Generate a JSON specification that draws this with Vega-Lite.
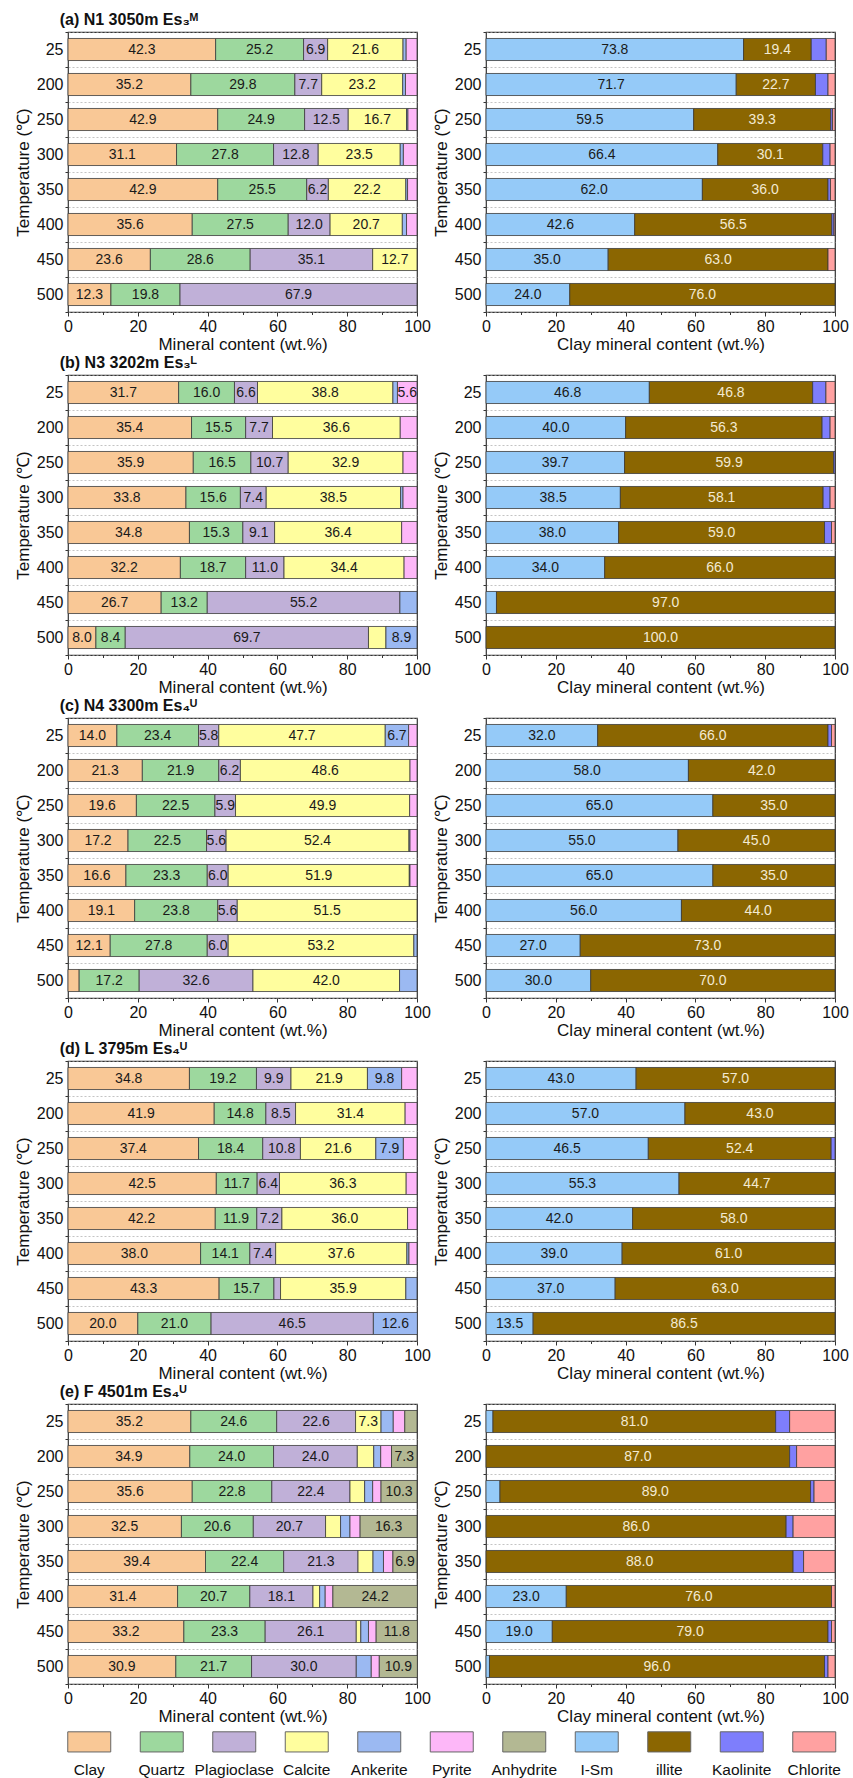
{
  "$schema": "https://vega.github.io/schema/vega-lite/v6.json",
  "padding": {"left": 13, "top": 12, "right": 2, "bottom": 2},
  "background": "white",
  "config": {
    "font": "Liberation Sans",
    "view": {"stroke": "#333", "strokeWidth": 1.2},
    "axis": {"labelFont": "Liberation Sans", "labelFontSize": 16, "labelColor": "#111", "titleFont": "Liberation Sans", "titleFontSize": 17, "titleFontWeight": "normal", "titleColor": "#111", "tickColor": "#333", "domainColor": "#333"},
    "axisX": {"values": [0, 10, 20, 30, 40, 50, 60, 70, 80, 90, 100], "labelExpr": "datum.value % 20 == 0 ? datum.label : ''", "tickSize": {"condition": {"test": "datum.value % 20 == 0", "value": 4}, "value": 2.5}, "labelFlush": false, "grid": false, "labelPadding": 2, "titlePadding": 2.5, "domain": false},
    "axisY": {"tickBand": "extent", "grid": true, "gridDash": [2, 2], "gridColor": "#aaa", "gridWidth": 0.7, "tickSize": 3, "labelPadding": 2, "titlePadding": 4, "domain": false},
    "title": {"font": "Liberation Sans", "fontSize": 16, "fontWeight": "bold", "color": "#111", "anchor": "start", "dx": 46, "offset": -5},
    "text": {"font": "Liberation Sans"}
  },
  "datasets": {
    "aL": [
      {"T": 25, "Clay": 42.3, "Quartz": 25.2, "Plagioclase": 6.9, "Calcite": 21.6, "Ankerite": 0.9, "Pyrite": 3.1},
      {"T": 200, "Clay": 35.2, "Quartz": 29.8, "Plagioclase": 7.7, "Calcite": 23.2, "Ankerite": 0.8, "Pyrite": 3.3},
      {"T": 250, "Clay": 42.9, "Quartz": 24.9, "Plagioclase": 12.5, "Calcite": 16.7, "Ankerite": 0.4, "Pyrite": 2.6},
      {"T": 300, "Clay": 31.1, "Quartz": 27.8, "Plagioclase": 12.8, "Calcite": 23.5, "Ankerite": 0.9, "Pyrite": 3.9},
      {"T": 350, "Clay": 42.9, "Quartz": 25.5, "Plagioclase": 6.2, "Calcite": 22.2, "Ankerite": 0.5, "Pyrite": 2.7},
      {"T": 400, "Clay": 35.6, "Quartz": 27.5, "Plagioclase": 12.0, "Calcite": 20.7, "Ankerite": 1.2, "Pyrite": 3.0},
      {"T": 450, "Clay": 23.6, "Quartz": 28.6, "Plagioclase": 35.1, "Calcite": 12.7},
      {"T": 500, "Clay": 12.3, "Quartz": 19.8, "Plagioclase": 67.9}
    ],
    "aR": [
      {"T": 25, "I-Sm": 73.8, "illite": 19.4, "Kaolinite": 4.3, "Chlorite": 2.5},
      {"T": 200, "I-Sm": 71.7, "illite": 22.7, "Kaolinite": 3.6, "Chlorite": 2.0},
      {"T": 250, "I-Sm": 59.5, "illite": 39.3, "Kaolinite": 0.5, "Chlorite": 0.7},
      {"T": 300, "I-Sm": 66.4, "illite": 30.1, "Kaolinite": 2.1, "Chlorite": 1.4},
      {"T": 350, "I-Sm": 62.0, "illite": 36.0, "Kaolinite": 0.7, "Chlorite": 1.3},
      {"T": 400, "I-Sm": 42.6, "illite": 56.5, "Kaolinite": 0.6, "Chlorite": 0.3},
      {"T": 450, "I-Sm": 35.0, "illite": 63.0, "Chlorite": 2.0},
      {"T": 500, "I-Sm": 24.0, "illite": 76.0}
    ],
    "bL": [
      {"T": 25, "Clay": 31.7, "Quartz": 16.0, "Plagioclase": 6.6, "Calcite": 38.8, "Ankerite": 1.3, "Pyrite": 5.6},
      {"T": 200, "Clay": 35.4, "Quartz": 15.5, "Plagioclase": 7.7, "Calcite": 36.6, "Pyrite": 4.8},
      {"T": 250, "Clay": 35.9, "Quartz": 16.5, "Plagioclase": 10.7, "Calcite": 32.9, "Pyrite": 4.0},
      {"T": 300, "Clay": 33.8, "Quartz": 15.6, "Plagioclase": 7.4, "Calcite": 38.5, "Ankerite": 0.7, "Pyrite": 4.0},
      {"T": 350, "Clay": 34.8, "Quartz": 15.3, "Plagioclase": 9.1, "Calcite": 36.4, "Pyrite": 4.4},
      {"T": 400, "Clay": 32.2, "Quartz": 18.7, "Plagioclase": 11.0, "Calcite": 34.4, "Pyrite": 3.7},
      {"T": 450, "Clay": 26.7, "Quartz": 13.2, "Plagioclase": 55.2, "Ankerite": 4.9},
      {"T": 500, "Clay": 8.0, "Quartz": 8.4, "Plagioclase": 69.7, "Calcite": 5.0, "Ankerite": 8.9}
    ],
    "bR": [
      {"T": 25, "I-Sm": 46.8, "illite": 46.8, "Kaolinite": 3.8, "Chlorite": 2.6},
      {"T": 200, "I-Sm": 40.0, "illite": 56.3, "Kaolinite": 2.3, "Chlorite": 1.4},
      {"T": 250, "I-Sm": 39.7, "illite": 59.9, "Kaolinite": 0.4},
      {"T": 300, "I-Sm": 38.5, "illite": 58.1, "Kaolinite": 2.0, "Chlorite": 1.4},
      {"T": 350, "I-Sm": 38.0, "illite": 59.0, "Kaolinite": 2.0, "Chlorite": 1.0},
      {"T": 400, "I-Sm": 34.0, "illite": 66.0},
      {"T": 450, "I-Sm": 3.0, "illite": 97.0},
      {"T": 500, "illite": 100.0}
    ],
    "cL": [
      {"T": 25, "Clay": 14.0, "Quartz": 23.4, "Plagioclase": 5.8, "Calcite": 47.7, "Ankerite": 6.7, "Pyrite": 2.4},
      {"T": 200, "Clay": 21.3, "Quartz": 21.9, "Plagioclase": 6.2, "Calcite": 48.6, "Pyrite": 2.0},
      {"T": 250, "Clay": 19.6, "Quartz": 22.5, "Plagioclase": 5.9, "Calcite": 49.9, "Pyrite": 2.1},
      {"T": 300, "Clay": 17.2, "Quartz": 22.5, "Plagioclase": 5.6, "Calcite": 52.4, "Ankerite": 0.3, "Pyrite": 2.0},
      {"T": 350, "Clay": 16.6, "Quartz": 23.3, "Plagioclase": 6.0, "Calcite": 51.9, "Ankerite": 0.2, "Pyrite": 2.0},
      {"T": 400, "Clay": 19.1, "Quartz": 23.8, "Plagioclase": 5.6, "Calcite": 51.5},
      {"T": 450, "Clay": 12.1, "Quartz": 27.8, "Plagioclase": 6.0, "Calcite": 53.2, "Ankerite": 0.9},
      {"T": 500, "Clay": 3.2, "Quartz": 17.2, "Plagioclase": 32.6, "Calcite": 42.0, "Ankerite": 5.0}
    ],
    "cR": [
      {"T": 25, "I-Sm": 32.0, "illite": 66.0, "Kaolinite": 1.0, "Chlorite": 1.0},
      {"T": 200, "I-Sm": 58.0, "illite": 42.0},
      {"T": 250, "I-Sm": 65.0, "illite": 35.0},
      {"T": 300, "I-Sm": 55.0, "illite": 45.0},
      {"T": 350, "I-Sm": 65.0, "illite": 35.0},
      {"T": 400, "I-Sm": 56.0, "illite": 44.0},
      {"T": 450, "I-Sm": 27.0, "illite": 73.0},
      {"T": 500, "I-Sm": 30.0, "illite": 70.0}
    ],
    "dL": [
      {"T": 25, "Clay": 34.8, "Quartz": 19.2, "Plagioclase": 9.9, "Calcite": 21.9, "Ankerite": 9.8, "Pyrite": 4.4},
      {"T": 200, "Clay": 41.9, "Quartz": 14.8, "Plagioclase": 8.5, "Calcite": 31.4, "Pyrite": 3.4},
      {"T": 250, "Clay": 37.4, "Quartz": 18.4, "Plagioclase": 10.8, "Calcite": 21.6, "Ankerite": 7.9, "Pyrite": 3.9},
      {"T": 300, "Clay": 42.5, "Quartz": 11.7, "Plagioclase": 6.4, "Calcite": 36.3, "Pyrite": 3.1},
      {"T": 350, "Clay": 42.2, "Quartz": 11.9, "Plagioclase": 7.2, "Calcite": 36.0, "Pyrite": 2.7},
      {"T": 400, "Clay": 38.0, "Quartz": 14.1, "Plagioclase": 7.4, "Calcite": 37.6, "Ankerite": 0.6, "Pyrite": 2.3},
      {"T": 450, "Clay": 43.3, "Quartz": 15.7, "Plagioclase": 1.9, "Calcite": 35.9, "Ankerite": 3.2},
      {"T": 500, "Clay": 20.0, "Quartz": 21.0, "Plagioclase": 46.5, "Ankerite": 12.6}
    ],
    "dR": [
      {"T": 25, "I-Sm": 43.0, "illite": 57.0},
      {"T": 200, "I-Sm": 57.0, "illite": 43.0},
      {"T": 250, "I-Sm": 46.5, "illite": 52.4, "Kaolinite": 1.1},
      {"T": 300, "I-Sm": 55.3, "illite": 44.7},
      {"T": 350, "I-Sm": 42.0, "illite": 58.0},
      {"T": 400, "I-Sm": 39.0, "illite": 61.0},
      {"T": 450, "I-Sm": 37.0, "illite": 63.0},
      {"T": 500, "I-Sm": 13.5, "illite": 86.5}
    ],
    "eL": [
      {"T": 25, "Clay": 35.2, "Quartz": 24.6, "Plagioclase": 22.6, "Calcite": 7.3, "Ankerite": 3.5, "Pyrite": 3.3, "Anhydrite": 3.5},
      {"T": 200, "Clay": 34.9, "Quartz": 24.0, "Plagioclase": 24.0, "Calcite": 4.7, "Ankerite": 2.0, "Pyrite": 3.1, "Anhydrite": 7.3},
      {"T": 250, "Clay": 35.6, "Quartz": 22.8, "Plagioclase": 22.4, "Calcite": 4.2, "Ankerite": 2.3, "Pyrite": 2.4, "Anhydrite": 10.3},
      {"T": 300, "Clay": 32.5, "Quartz": 20.6, "Plagioclase": 20.7, "Calcite": 4.3, "Ankerite": 2.7, "Pyrite": 2.9, "Anhydrite": 16.3},
      {"T": 350, "Clay": 39.4, "Quartz": 22.4, "Plagioclase": 21.3, "Calcite": 4.3, "Ankerite": 3.0, "Pyrite": 2.7, "Anhydrite": 6.9},
      {"T": 400, "Clay": 31.4, "Quartz": 20.7, "Plagioclase": 18.1, "Calcite": 1.9, "Ankerite": 1.6, "Pyrite": 2.2, "Anhydrite": 24.2},
      {"T": 450, "Clay": 33.2, "Quartz": 23.3, "Plagioclase": 26.1, "Calcite": 1.3, "Ankerite": 2.2, "Pyrite": 2.2, "Anhydrite": 11.8},
      {"T": 500, "Clay": 30.9, "Quartz": 21.7, "Plagioclase": 30.0, "Ankerite": 4.3, "Pyrite": 2.3, "Anhydrite": 10.9}
    ],
    "eR": [
      {"T": 25, "I-Sm": 2.0, "illite": 81.0, "Kaolinite": 4.0, "Chlorite": 13.0},
      {"T": 200, "illite": 87.0, "Kaolinite": 2.0, "Chlorite": 11.0},
      {"T": 250, "I-Sm": 4.0, "illite": 89.0, "Kaolinite": 1.0, "Chlorite": 6.0},
      {"T": 300, "illite": 86.0, "Kaolinite": 2.0, "Chlorite": 12.0},
      {"T": 350, "illite": 88.0, "Kaolinite": 3.0, "Chlorite": 9.0},
      {"T": 400, "I-Sm": 23.0, "illite": 76.0, "Chlorite": 1.0},
      {"T": 450, "I-Sm": 19.0, "illite": 79.0, "Kaolinite": 1.0, "Chlorite": 1.0},
      {"T": 500, "I-Sm": 1.0, "illite": 96.0, "Kaolinite": 1.0, "Chlorite": 2.0}
    ],
    "leg": [
      {"name": "Clay"}, {"name": "Quartz"}, {"name": "Plagioclase"}, {"name": "Calcite"}, {"name": "Ankerite"}, {"name": "Pyrite"}, {"name": "Anhydrite"}, {"name": "I-Sm"}, {"name": "illite"}, {"name": "Kaolinite"}, {"name": "Chlorite"}
    ]
  },
  "spacing": 1,
  "vconcat": [
    {
      "title": {"text": "(a) N1 3050m Es₃ᴹ"},
      "spacing": 0,
      "hconcat": [
        {
          "data": {"name": "aL"}, "width": 349, "height": 280,
          "transform": [{"fold": ["Clay", "Quartz", "Plagioclase", "Calcite", "Ankerite", "Pyrite", "Anhydrite"]}, {"filter": "datum.value > 0"}, {"window": [{"op": "row_number", "as": "k"}], "groupby": ["T"]}],
          "encoding": {
            "y": {"field": "T", "type": "ordinal", "title": "Temperature (℃)", "scale": {"paddingInner": 0, "paddingOuter": 0}},
            "x": {"field": "value", "type": "quantitative", "stack": "zero", "scale": {"domain": [0, 100], "nice": false}, "title": "Mineral content (wt.%)"},
            "order": {"field": "k"},
            "detail": {"field": "key"}
          },
          "layer": [
            {"mark": {"type": "bar", "height": {"band": 0.63}, "stroke": "#3a3a3a", "strokeWidth": 0.8}, "encoding": {"color": {"field": "key", "type": "nominal", "legend": null, "scale": {"domain": ["Clay", "Quartz", "Plagioclase", "Calcite", "Ankerite", "Pyrite", "Anhydrite", "I-Sm", "illite", "Kaolinite", "Chlorite"], "range": ["#F9C896", "#9DD89E", "#C0B0D8", "#FFFE9E", "#9BB9F2", "#FDB7F8", "#B3B893", "#95CAF8", "#8B6601", "#7E7EFC", "#FFA1A1"]}}}},
            {"mark": {"type": "text", "fontSize": 14, "baseline": "middle"}, "encoding": {"x": {"field": "value", "type": "quantitative", "stack": "zero", "bandPosition": 0.5}, "text": {"condition": {"test": "datum.value >= 5.5 && datum.key != 'Chlorite' && datum.key != 'Kaolinite'", "field": "value", "format": ".1f"}, "value": ""}, "color": {"condition": {"test": "datum.key == 'illite'", "value": "#f3ead2"}, "value": "#1a1a1a"}}}
          ]
        },
        {
          "data": {"name": "aR"}, "width": 349, "height": 280,
          "transform": [{"fold": ["I-Sm", "illite", "Kaolinite", "Chlorite"]}, {"filter": "datum.value > 0"}, {"window": [{"op": "row_number", "as": "k"}], "groupby": ["T"]}],
          "encoding": {
            "y": {"field": "T", "type": "ordinal", "title": "Temperature (℃)", "scale": {"paddingInner": 0, "paddingOuter": 0}},
            "x": {"field": "value", "type": "quantitative", "stack": "zero", "scale": {"domain": [0, 100], "nice": false}, "title": "Clay mineral content (wt.%)"},
            "order": {"field": "k"},
            "detail": {"field": "key"}
          },
          "layer": [
            {"mark": {"type": "bar", "height": {"band": 0.63}, "stroke": "#3a3a3a", "strokeWidth": 0.8}, "encoding": {"color": {"field": "key", "type": "nominal", "legend": null, "scale": {"domain": ["Clay", "Quartz", "Plagioclase", "Calcite", "Ankerite", "Pyrite", "Anhydrite", "I-Sm", "illite", "Kaolinite", "Chlorite"], "range": ["#F9C896", "#9DD89E", "#C0B0D8", "#FFFE9E", "#9BB9F2", "#FDB7F8", "#B3B893", "#95CAF8", "#8B6601", "#7E7EFC", "#FFA1A1"]}}}},
            {"mark": {"type": "text", "fontSize": 14, "baseline": "middle"}, "encoding": {"x": {"field": "value", "type": "quantitative", "stack": "zero", "bandPosition": 0.5}, "text": {"condition": {"test": "datum.value >= 5.5 && datum.key != 'Chlorite' && datum.key != 'Kaolinite'", "field": "value", "format": ".1f"}, "value": ""}, "color": {"condition": {"test": "datum.key == 'illite'", "value": "#f3ead2"}, "value": "#1a1a1a"}}}
          ]
        }
      ]
    },
    {
      "title": {"text": "(b) N3 3202m Es₃ᴸ"},
      "spacing": 0,
      "hconcat": [
        {
          "data": {"name": "bL"}, "width": 349, "height": 280,
          "transform": [{"fold": ["Clay", "Quartz", "Plagioclase", "Calcite", "Ankerite", "Pyrite", "Anhydrite"]}, {"filter": "datum.value > 0"}, {"window": [{"op": "row_number", "as": "k"}], "groupby": ["T"]}],
          "encoding": {
            "y": {"field": "T", "type": "ordinal", "title": "Temperature (℃)", "scale": {"paddingInner": 0, "paddingOuter": 0}},
            "x": {"field": "value", "type": "quantitative", "stack": "zero", "scale": {"domain": [0, 100], "nice": false}, "title": "Mineral content (wt.%)"},
            "order": {"field": "k"},
            "detail": {"field": "key"}
          },
          "layer": [
            {"mark": {"type": "bar", "height": {"band": 0.63}, "stroke": "#3a3a3a", "strokeWidth": 0.8}, "encoding": {"color": {"field": "key", "type": "nominal", "legend": null, "scale": {"domain": ["Clay", "Quartz", "Plagioclase", "Calcite", "Ankerite", "Pyrite", "Anhydrite", "I-Sm", "illite", "Kaolinite", "Chlorite"], "range": ["#F9C896", "#9DD89E", "#C0B0D8", "#FFFE9E", "#9BB9F2", "#FDB7F8", "#B3B893", "#95CAF8", "#8B6601", "#7E7EFC", "#FFA1A1"]}}}},
            {"mark": {"type": "text", "fontSize": 14, "baseline": "middle"}, "encoding": {"x": {"field": "value", "type": "quantitative", "stack": "zero", "bandPosition": 0.5}, "text": {"condition": {"test": "datum.value >= 5.5 && datum.key != 'Chlorite' && datum.key != 'Kaolinite'", "field": "value", "format": ".1f"}, "value": ""}, "color": {"condition": {"test": "datum.key == 'illite'", "value": "#f3ead2"}, "value": "#1a1a1a"}}}
          ]
        },
        {
          "data": {"name": "bR"}, "width": 349, "height": 280,
          "transform": [{"fold": ["I-Sm", "illite", "Kaolinite", "Chlorite"]}, {"filter": "datum.value > 0"}, {"window": [{"op": "row_number", "as": "k"}], "groupby": ["T"]}],
          "encoding": {
            "y": {"field": "T", "type": "ordinal", "title": "Temperature (℃)", "scale": {"paddingInner": 0, "paddingOuter": 0}},
            "x": {"field": "value", "type": "quantitative", "stack": "zero", "scale": {"domain": [0, 100], "nice": false}, "title": "Clay mineral content (wt.%)"},
            "order": {"field": "k"},
            "detail": {"field": "key"}
          },
          "layer": [
            {"mark": {"type": "bar", "height": {"band": 0.63}, "stroke": "#3a3a3a", "strokeWidth": 0.8}, "encoding": {"color": {"field": "key", "type": "nominal", "legend": null, "scale": {"domain": ["Clay", "Quartz", "Plagioclase", "Calcite", "Ankerite", "Pyrite", "Anhydrite", "I-Sm", "illite", "Kaolinite", "Chlorite"], "range": ["#F9C896", "#9DD89E", "#C0B0D8", "#FFFE9E", "#9BB9F2", "#FDB7F8", "#B3B893", "#95CAF8", "#8B6601", "#7E7EFC", "#FFA1A1"]}}}},
            {"mark": {"type": "text", "fontSize": 14, "baseline": "middle"}, "encoding": {"x": {"field": "value", "type": "quantitative", "stack": "zero", "bandPosition": 0.5}, "text": {"condition": {"test": "datum.value >= 5.5 && datum.key != 'Chlorite' && datum.key != 'Kaolinite'", "field": "value", "format": ".1f"}, "value": ""}, "color": {"condition": {"test": "datum.key == 'illite'", "value": "#f3ead2"}, "value": "#1a1a1a"}}}
          ]
        }
      ]
    },
    {
      "title": {"text": "(c) N4 3300m Es₄ᵁ"},
      "spacing": 0,
      "hconcat": [
        {
          "data": {"name": "cL"}, "width": 349, "height": 280,
          "transform": [{"fold": ["Clay", "Quartz", "Plagioclase", "Calcite", "Ankerite", "Pyrite", "Anhydrite"]}, {"filter": "datum.value > 0"}, {"window": [{"op": "row_number", "as": "k"}], "groupby": ["T"]}],
          "encoding": {
            "y": {"field": "T", "type": "ordinal", "title": "Temperature (℃)", "scale": {"paddingInner": 0, "paddingOuter": 0}},
            "x": {"field": "value", "type": "quantitative", "stack": "zero", "scale": {"domain": [0, 100], "nice": false}, "title": "Mineral content (wt.%)"},
            "order": {"field": "k"},
            "detail": {"field": "key"}
          },
          "layer": [
            {"mark": {"type": "bar", "height": {"band": 0.63}, "stroke": "#3a3a3a", "strokeWidth": 0.8}, "encoding": {"color": {"field": "key", "type": "nominal", "legend": null, "scale": {"domain": ["Clay", "Quartz", "Plagioclase", "Calcite", "Ankerite", "Pyrite", "Anhydrite", "I-Sm", "illite", "Kaolinite", "Chlorite"], "range": ["#F9C896", "#9DD89E", "#C0B0D8", "#FFFE9E", "#9BB9F2", "#FDB7F8", "#B3B893", "#95CAF8", "#8B6601", "#7E7EFC", "#FFA1A1"]}}}},
            {"mark": {"type": "text", "fontSize": 14, "baseline": "middle"}, "encoding": {"x": {"field": "value", "type": "quantitative", "stack": "zero", "bandPosition": 0.5}, "text": {"condition": {"test": "datum.value >= 5.5 && datum.key != 'Chlorite' && datum.key != 'Kaolinite'", "field": "value", "format": ".1f"}, "value": ""}, "color": {"condition": {"test": "datum.key == 'illite'", "value": "#f3ead2"}, "value": "#1a1a1a"}}}
          ]
        },
        {
          "data": {"name": "cR"}, "width": 349, "height": 280,
          "transform": [{"fold": ["I-Sm", "illite", "Kaolinite", "Chlorite"]}, {"filter": "datum.value > 0"}, {"window": [{"op": "row_number", "as": "k"}], "groupby": ["T"]}],
          "encoding": {
            "y": {"field": "T", "type": "ordinal", "title": "Temperature (℃)", "scale": {"paddingInner": 0, "paddingOuter": 0}},
            "x": {"field": "value", "type": "quantitative", "stack": "zero", "scale": {"domain": [0, 100], "nice": false}, "title": "Clay mineral content (wt.%)"},
            "order": {"field": "k"},
            "detail": {"field": "key"}
          },
          "layer": [
            {"mark": {"type": "bar", "height": {"band": 0.63}, "stroke": "#3a3a3a", "strokeWidth": 0.8}, "encoding": {"color": {"field": "key", "type": "nominal", "legend": null, "scale": {"domain": ["Clay", "Quartz", "Plagioclase", "Calcite", "Ankerite", "Pyrite", "Anhydrite", "I-Sm", "illite", "Kaolinite", "Chlorite"], "range": ["#F9C896", "#9DD89E", "#C0B0D8", "#FFFE9E", "#9BB9F2", "#FDB7F8", "#B3B893", "#95CAF8", "#8B6601", "#7E7EFC", "#FFA1A1"]}}}},
            {"mark": {"type": "text", "fontSize": 14, "baseline": "middle"}, "encoding": {"x": {"field": "value", "type": "quantitative", "stack": "zero", "bandPosition": 0.5}, "text": {"condition": {"test": "datum.value >= 5.5 && datum.key != 'Chlorite' && datum.key != 'Kaolinite'", "field": "value", "format": ".1f"}, "value": ""}, "color": {"condition": {"test": "datum.key == 'illite'", "value": "#f3ead2"}, "value": "#1a1a1a"}}}
          ]
        }
      ]
    },
    {
      "title": {"text": "(d) L 3795m Es₄ᵁ"},
      "spacing": 0,
      "hconcat": [
        {
          "data": {"name": "dL"}, "width": 349, "height": 280,
          "transform": [{"fold": ["Clay", "Quartz", "Plagioclase", "Calcite", "Ankerite", "Pyrite", "Anhydrite"]}, {"filter": "datum.value > 0"}, {"window": [{"op": "row_number", "as": "k"}], "groupby": ["T"]}],
          "encoding": {
            "y": {"field": "T", "type": "ordinal", "title": "Temperature (℃)", "scale": {"paddingInner": 0, "paddingOuter": 0}},
            "x": {"field": "value", "type": "quantitative", "stack": "zero", "scale": {"domain": [0, 100], "nice": false}, "title": "Mineral content (wt.%)"},
            "order": {"field": "k"},
            "detail": {"field": "key"}
          },
          "layer": [
            {"mark": {"type": "bar", "height": {"band": 0.63}, "stroke": "#3a3a3a", "strokeWidth": 0.8}, "encoding": {"color": {"field": "key", "type": "nominal", "legend": null, "scale": {"domain": ["Clay", "Quartz", "Plagioclase", "Calcite", "Ankerite", "Pyrite", "Anhydrite", "I-Sm", "illite", "Kaolinite", "Chlorite"], "range": ["#F9C896", "#9DD89E", "#C0B0D8", "#FFFE9E", "#9BB9F2", "#FDB7F8", "#B3B893", "#95CAF8", "#8B6601", "#7E7EFC", "#FFA1A1"]}}}},
            {"mark": {"type": "text", "fontSize": 14, "baseline": "middle"}, "encoding": {"x": {"field": "value", "type": "quantitative", "stack": "zero", "bandPosition": 0.5}, "text": {"condition": {"test": "datum.value >= 5.5 && datum.key != 'Chlorite' && datum.key != 'Kaolinite'", "field": "value", "format": ".1f"}, "value": ""}, "color": {"condition": {"test": "datum.key == 'illite'", "value": "#f3ead2"}, "value": "#1a1a1a"}}}
          ]
        },
        {
          "data": {"name": "dR"}, "width": 349, "height": 280,
          "transform": [{"fold": ["I-Sm", "illite", "Kaolinite", "Chlorite"]}, {"filter": "datum.value > 0"}, {"window": [{"op": "row_number", "as": "k"}], "groupby": ["T"]}],
          "encoding": {
            "y": {"field": "T", "type": "ordinal", "title": "Temperature (℃)", "scale": {"paddingInner": 0, "paddingOuter": 0}},
            "x": {"field": "value", "type": "quantitative", "stack": "zero", "scale": {"domain": [0, 100], "nice": false}, "title": "Clay mineral content (wt.%)"},
            "order": {"field": "k"},
            "detail": {"field": "key"}
          },
          "layer": [
            {"mark": {"type": "bar", "height": {"band": 0.63}, "stroke": "#3a3a3a", "strokeWidth": 0.8}, "encoding": {"color": {"field": "key", "type": "nominal", "legend": null, "scale": {"domain": ["Clay", "Quartz", "Plagioclase", "Calcite", "Ankerite", "Pyrite", "Anhydrite", "I-Sm", "illite", "Kaolinite", "Chlorite"], "range": ["#F9C896", "#9DD89E", "#C0B0D8", "#FFFE9E", "#9BB9F2", "#FDB7F8", "#B3B893", "#95CAF8", "#8B6601", "#7E7EFC", "#FFA1A1"]}}}},
            {"mark": {"type": "text", "fontSize": 14, "baseline": "middle"}, "encoding": {"x": {"field": "value", "type": "quantitative", "stack": "zero", "bandPosition": 0.5}, "text": {"condition": {"test": "datum.value >= 5.5 && datum.key != 'Chlorite' && datum.key != 'Kaolinite'", "field": "value", "format": ".1f"}, "value": ""}, "color": {"condition": {"test": "datum.key == 'illite'", "value": "#f3ead2"}, "value": "#1a1a1a"}}}
          ]
        }
      ]
    },
    {
      "title": {"text": "(e) F 4501m Es₄ᵁ"},
      "spacing": 0,
      "hconcat": [
        {
          "data": {"name": "eL"}, "width": 349, "height": 280,
          "transform": [{"fold": ["Clay", "Quartz", "Plagioclase", "Calcite", "Ankerite", "Pyrite", "Anhydrite"]}, {"filter": "datum.value > 0"}, {"window": [{"op": "row_number", "as": "k"}], "groupby": ["T"]}],
          "encoding": {
            "y": {"field": "T", "type": "ordinal", "title": "Temperature (℃)", "scale": {"paddingInner": 0, "paddingOuter": 0}},
            "x": {"field": "value", "type": "quantitative", "stack": "zero", "scale": {"domain": [0, 100], "nice": false}, "title": "Mineral content (wt.%)"},
            "order": {"field": "k"},
            "detail": {"field": "key"}
          },
          "layer": [
            {"mark": {"type": "bar", "height": {"band": 0.63}, "stroke": "#3a3a3a", "strokeWidth": 0.8}, "encoding": {"color": {"field": "key", "type": "nominal", "legend": null, "scale": {"domain": ["Clay", "Quartz", "Plagioclase", "Calcite", "Ankerite", "Pyrite", "Anhydrite", "I-Sm", "illite", "Kaolinite", "Chlorite"], "range": ["#F9C896", "#9DD89E", "#C0B0D8", "#FFFE9E", "#9BB9F2", "#FDB7F8", "#B3B893", "#95CAF8", "#8B6601", "#7E7EFC", "#FFA1A1"]}}}},
            {"mark": {"type": "text", "fontSize": 14, "baseline": "middle"}, "encoding": {"x": {"field": "value", "type": "quantitative", "stack": "zero", "bandPosition": 0.5}, "text": {"condition": {"test": "datum.value >= 5.5 && datum.key != 'Chlorite' && datum.key != 'Kaolinite'", "field": "value", "format": ".1f"}, "value": ""}, "color": {"condition": {"test": "datum.key == 'illite'", "value": "#f3ead2"}, "value": "#1a1a1a"}}}
          ]
        },
        {
          "data": {"name": "eR"}, "width": 349, "height": 280,
          "transform": [{"fold": ["I-Sm", "illite", "Kaolinite", "Chlorite"]}, {"filter": "datum.value > 0"}, {"window": [{"op": "row_number", "as": "k"}], "groupby": ["T"]}],
          "encoding": {
            "y": {"field": "T", "type": "ordinal", "title": "Temperature (℃)", "scale": {"paddingInner": 0, "paddingOuter": 0}},
            "x": {"field": "value", "type": "quantitative", "stack": "zero", "scale": {"domain": [0, 100], "nice": false}, "title": "Clay mineral content (wt.%)"},
            "order": {"field": "k"},
            "detail": {"field": "key"}
          },
          "layer": [
            {"mark": {"type": "bar", "height": {"band": 0.63}, "stroke": "#3a3a3a", "strokeWidth": 0.8}, "encoding": {"color": {"field": "key", "type": "nominal", "legend": null, "scale": {"domain": ["Clay", "Quartz", "Plagioclase", "Calcite", "Ankerite", "Pyrite", "Anhydrite", "I-Sm", "illite", "Kaolinite", "Chlorite"], "range": ["#F9C896", "#9DD89E", "#C0B0D8", "#FFFE9E", "#9BB9F2", "#FDB7F8", "#B3B893", "#95CAF8", "#8B6601", "#7E7EFC", "#FFA1A1"]}}}},
            {"mark": {"type": "text", "fontSize": 14, "baseline": "middle"}, "encoding": {"x": {"field": "value", "type": "quantitative", "stack": "zero", "bandPosition": 0.5}, "text": {"condition": {"test": "datum.value >= 5.5 && datum.key != 'Chlorite' && datum.key != 'Kaolinite'", "field": "value", "format": ".1f"}, "value": ""}, "color": {"condition": {"test": "datum.key == 'illite'", "value": "#f3ead2"}, "value": "#1a1a1a"}}}
          ]
        }
      ]
    },
    {
      "data": {"name": "leg"},
      "width": 783, "height": 48,
      "view": {"stroke": null},
      "encoding": {"x": {"field": "name", "type": "nominal", "sort": null, "scale": {"paddingInner": 0, "paddingOuter": 0, "range": [-15, 782.5]}, "axis": null}},
      "layer": [
        {"mark": {"type": "bar", "width": {"band": 0.593}, "stroke": "#666", "strokeWidth": 1}, "encoding": {"y": {"datum": 45, "type": "quantitative", "scale": {"domain": [0, 48]}, "axis": null}, "y2": {"datum": 24}, "color": {"field": "name", "type": "nominal", "legend": null, "scale": {"domain": ["Clay", "Quartz", "Plagioclase", "Calcite", "Ankerite", "Pyrite", "Anhydrite", "I-Sm", "illite", "Kaolinite", "Chlorite"], "range": ["#F9C896", "#9DD89E", "#C0B0D8", "#FFFE9E", "#9BB9F2", "#FDB7F8", "#B3B893", "#95CAF8", "#8B6601", "#7E7EFC", "#FFA1A1"]}}}},
        {"mark": {"type": "text", "fontSize": 15.5, "baseline": "middle", "color": "#111"}, "encoding": {"y": {"datum": 5, "type": "quantitative"}, "text": {"field": "name"}}}
      ]
    }
  ]
}
